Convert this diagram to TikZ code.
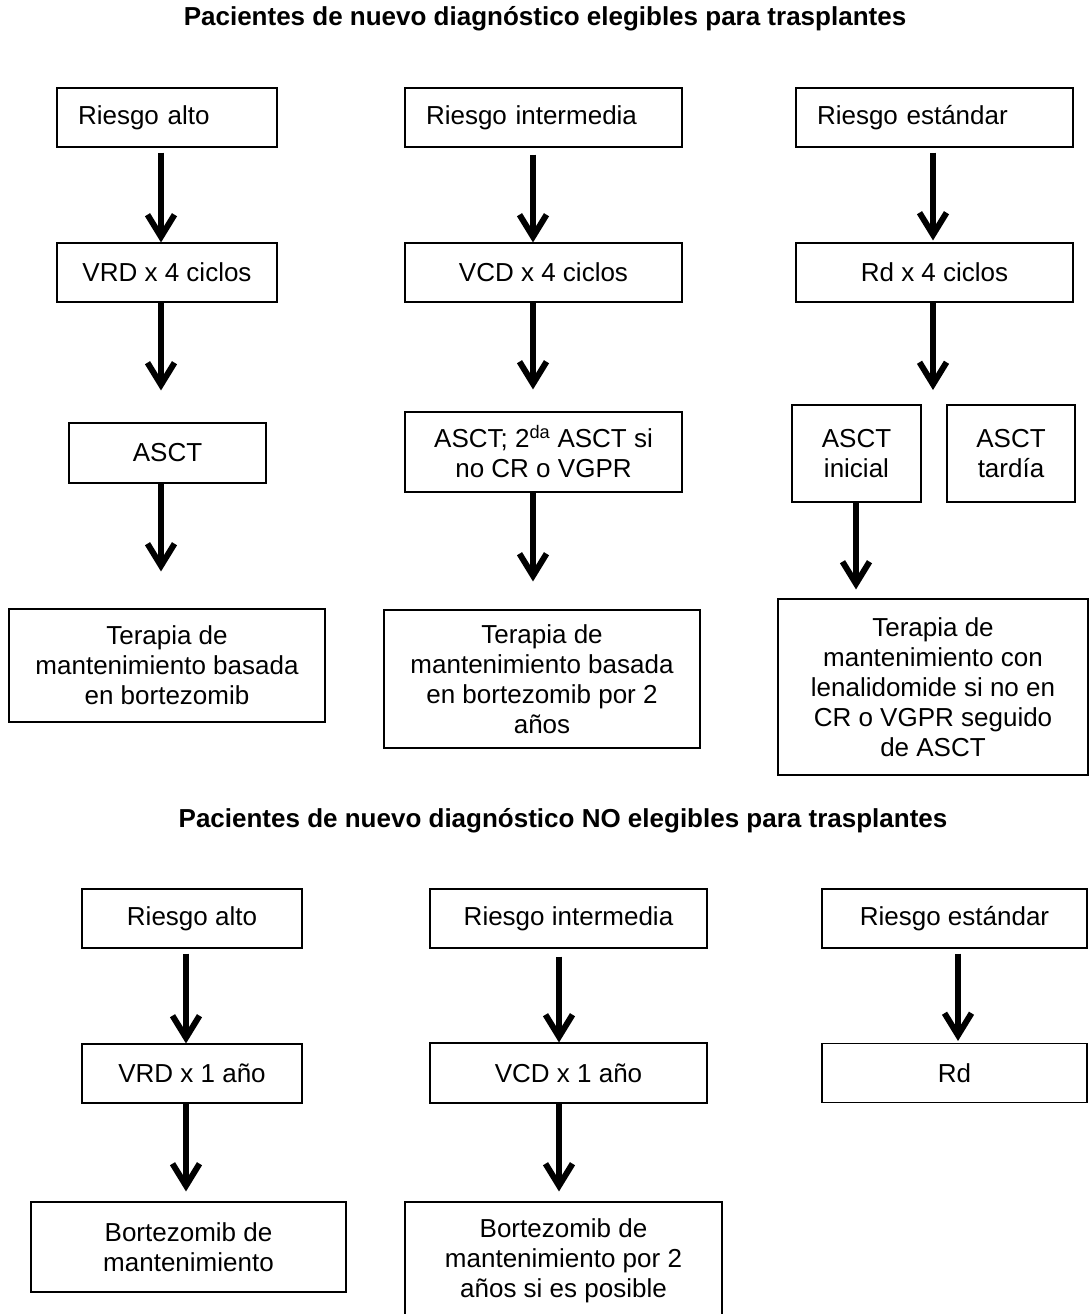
\documentclass[tikz,border=0pt]{standalone}
\usepackage{fontspec}
\setmainfont{Liberation Sans}
\usetikzlibrary{arrows.meta}
\begin{document}
\begin{tikzpicture}[x=1pt,y=-1pt,
  box/.style={draw, line width=1.1pt, inner sep=0pt, align=center,
    font=\fontsize{26}{30}\selectfont},
  lbox/.style={box, align=left},
  ttl/.style={inner sep=0pt, font=\bfseries\fontsize{26}{30}\selectfont},
  arr/.style={line width=6pt, -{Straight Barb[length=22pt,width=27pt]}}]
\useasboundingbox (0,0) rectangle (1089,1314);
\fill[white] (0,0) rectangle (1089,1314);
\clip (0,0) rectangle (1089,1314);

% ---------- top section ----------
\node[ttl] (T1) at (545,19) {Pacientes de nuevo diagnóstico elegibles para trasplantes};

\node[lbox, minimum width=220pt, minimum height=59pt, text width=178pt] (A1) at (167,117.5) {Riesgo alto};
\node[lbox, minimum width=277pt, minimum height=59pt, text width=235pt] (A2) at (543.5,117.5) {Riesgo intermedia};
\node[lbox, minimum width=277pt, minimum height=59pt, text width=235pt] (A3) at (934.5,117.5) {Riesgo estándar};

\node[box, minimum width=220pt, minimum height=59pt] (B1) at (167,272.5) {VRD x 4 ciclos};
\node[box, minimum width=277pt, minimum height=59pt] (B2) at (543.5,272.5) {VCD x 4 ciclos};
\node[box, minimum width=277pt, minimum height=59pt] (B3) at (934.5,272.5) {Rd x 4 ciclos};

\node[box, minimum width=197pt, minimum height=60pt] (C1) at (167.5,453) {ASCT};
\node[box, minimum width=277pt, minimum height=80pt] (C2) at (543.5,452) {ASCT; 2\textsuperscript{da} ASCT si\\no CR o VGPR};
\node[box, minimum width=129pt, minimum height=97pt] (C3a) at (856.5,453.5) {ASCT\\inicial};
\node[box, minimum width=128pt, minimum height=97pt] (C3b) at (1011,453.5) {ASCT\\tardía};

\node[box, minimum width=316pt, minimum height=113pt] (D1) at (167,665.5) {Terapia de\\mantenimiento basada\\en bortezomib};
\node[box, minimum width=316pt, minimum height=138pt] (D2) at (542,679) {Terapia de\\mantenimiento basada\\en bortezomib por 2\\años};
\node[box, minimum width=310pt, minimum height=176pt] (D3) at (933,687) {Terapia de\\mantenimiento con\\lenalidomide si no en\\CR o VGPR seguido\\de ASCT};

\coordinate (c1) at (161,0);
\coordinate (c2) at (533,0);
\coordinate (c3) at (933,0);
\coordinate (c3a) at (856,0);
\coordinate (gap3) at (933,390);

\draw[arr, shorten <=5pt] (A1.south -| c1) -- (B1.north -| c1);
\draw[arr, shorten <=7pt] (A2.south -| c2) -- (B2.north -| c2);
\draw[arr, shorten <=5pt, shorten >=2pt] (A3.south -| c3) -- (B3.north -| c3);

\draw[arr, shorten >=32pt] (B1.south -| c1) -- (C1.north -| c1);
\draw[arr, shorten >=22pt] (B2.south -| c2) -- (C2.north -| c2);
\draw[arr] (B3.south -| c3) -- (gap3);

\draw[arr, shorten >=37pt] (C1.south -| c1) -- (D1.north -| c1);
\draw[arr, shorten >=28pt] (C2.south -| c2) -- (D2.north -| c2);
\draw[arr, shorten >=9pt] (C3a.south -| c3a) -- (D3.north -| c3a);

% ---------- bottom section ----------
\node[ttl] (T2) at (563,821) {Pacientes de nuevo diagnóstico NO elegibles para trasplantes};

\node[box, minimum width=220pt, minimum height=59pt] (E1) at (192,918.5) {Riesgo alto};
\node[box, minimum width=277pt, minimum height=59pt] (E2) at (568.5,918.5) {Riesgo intermedia};
\node[box, minimum width=265pt, minimum height=59pt] (E3) at (954.5,918.5) {Riesgo estándar};

\node[box, minimum width=220pt, minimum height=59pt] (F1) at (192,1073.5) {VRD x 1 año};
\node[box, minimum width=277pt, minimum height=60pt] (F2) at (568.5,1073) {VCD x 1 año};
\node[box, minimum width=265pt, minimum height=59pt] (F3) at (954.5,1073) {Rd};

\node[box, minimum width=315pt, minimum height=90pt] (G1) at (188.5,1247) {Bortezomib de\\mantenimiento};
\node[box, minimum width=317pt, minimum height=118pt] (G2) at (563.5,1261) {Bortezomib de\\mantenimiento por 2\\años si es posible};

\coordinate (d1) at (186,0);
\coordinate (d2) at (559,0);
\coordinate (d3) at (958,0);

\draw[arr, shorten <=5pt] (E1.south -| d1) -- (F1.north -| d1);
\draw[arr, shorten <=8pt] (E2.south -| d2) -- (F2.north -| d2);
\draw[arr, shorten <=5pt, shorten >=2pt] (E3.south -| d3) -- (F3.north -| d3);

\draw[arr, shorten >=10pt] (F1.south -| d1) -- (G1.north -| d1);
\draw[arr, shorten >=10pt] (F2.south -| d2) -- (G2.north -| d2);
\end{tikzpicture}
\end{document}
